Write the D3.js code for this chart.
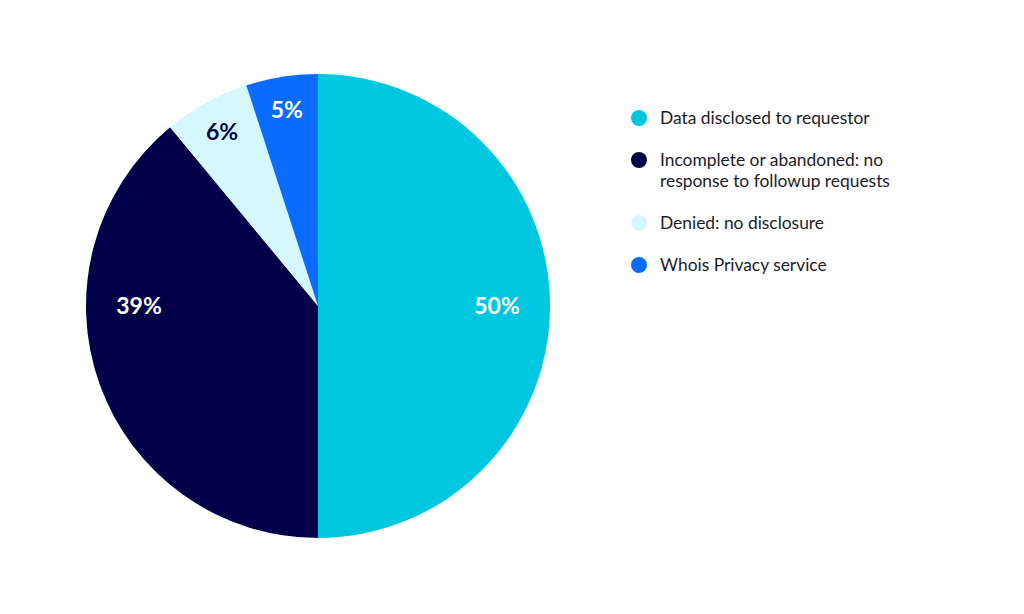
<!DOCTYPE html>
<html>
<head>
<meta charset="utf-8">
<script src="https://cdn.jsdelivr.net/npm/d3@7"></script>
<style>
  body { margin: 0; background: #fff; }
  text { font-family: Lato, "Open Sans", sans-serif; }
</style>
</head>
<body>
<script>
const width = 1024;
const height = 614;
const center = { x: 318, y: 306 };
const radius = 232;
const labelRadius = 199;

const categories = [
  "Data disclosed to requestor",
  "Incomplete or abandoned: no response to followup requests",
  "Denied: no disclosure",
  "Whois Privacy service"
];
const legendLines = [
  ["Data disclosed to requestor"],
  ["Incomplete or abandoned: no", "response to followup requests"],
  ["Denied: no disclosure"],
  ["Whois Privacy service"]
];
const values = [50, 39, 6, 5];
const colors = ["#00C6E0", "#03004A", "#D4F8FD", "#0A6CFF"];
const labelColors = ["#ffffff", "#ffffff", "#03004A", "#ffffff"];

const svg = d3.select(document.body).append("svg")
  .attr("width", width)
  .attr("height", height);

const pie = d3.pie()
  .sort(null)
  .value((d) => d.value);

const arcs = pie(categories.map((c, i) => ({ name: c, value: values[i], idx: i })));

const arc = d3.arc().innerRadius(0).outerRadius(radius);

const g = svg.append("g")
  .attr("transform", `translate(${center.x},${center.y})`);

g.selectAll(".slice")
  .data(arcs)
  .enter().append("path")
  .attr("class", "slice")
  .attr("d", arc)
  .attr("fill", (d) => colors[d.data.idx]);

// big slices that contain a horizontal direction get their label there
function labelAngle(d) {
  const horiz = [Math.PI / 2, 3 * Math.PI / 2];
  const span = d.endAngle - d.startAngle;
  if (span > Math.PI / 2) {
    const hit = horiz.find((a) => a >= d.startAngle && a <= d.endAngle);
    if (hit !== undefined) return hit;
  }
  return (d.startAngle + d.endAngle) / 2;
}

function labelDist(d) {
  return (d.endAngle - d.startAngle) > Math.PI / 2 ? 179 : labelRadius;
}

g.selectAll(".label")
  .data(arcs)
  .enter().append("text")
  .attr("class", "label")
  .attr("x", (d) => Math.sin(labelAngle(d)) * labelDist(d))
  .attr("y", (d) => -Math.cos(labelAngle(d)) * labelDist(d))
  .attr("dy", "0.36em")
  .attr("text-anchor", "middle")
  .attr("style", (d) => `font-size: 23px; font-weight: 700; fill: ${labelColors[d.data.idx]};`)
  .text((d) => `${d.data.value}%`);

// legend
const legendX = 639;
const lineHeight = 21;
let legendY = 118;

const legend = svg.append("g").attr("class", "legend");

legendLines.forEach((lines, i) => {
  const item = legend.append("g")
    .attr("transform", `translate(${legendX},${legendY})`);

  item.append("circle")
    .attr("r", 8)
    .attr("fill", colors[i]);

  item.selectAll("text")
    .data(lines)
    .enter().append("text")
    .attr("x", 21)
    .attr("y", (d, j) => j * lineHeight)
    .attr("dy", "0.35em")
    .attr("style", "font-size: 17.4px; fill: #1c1c28;")
    .text((d) => d);

  legendY += lines.length * lineHeight + lineHeight;
});
</script>
</body>
</html>
